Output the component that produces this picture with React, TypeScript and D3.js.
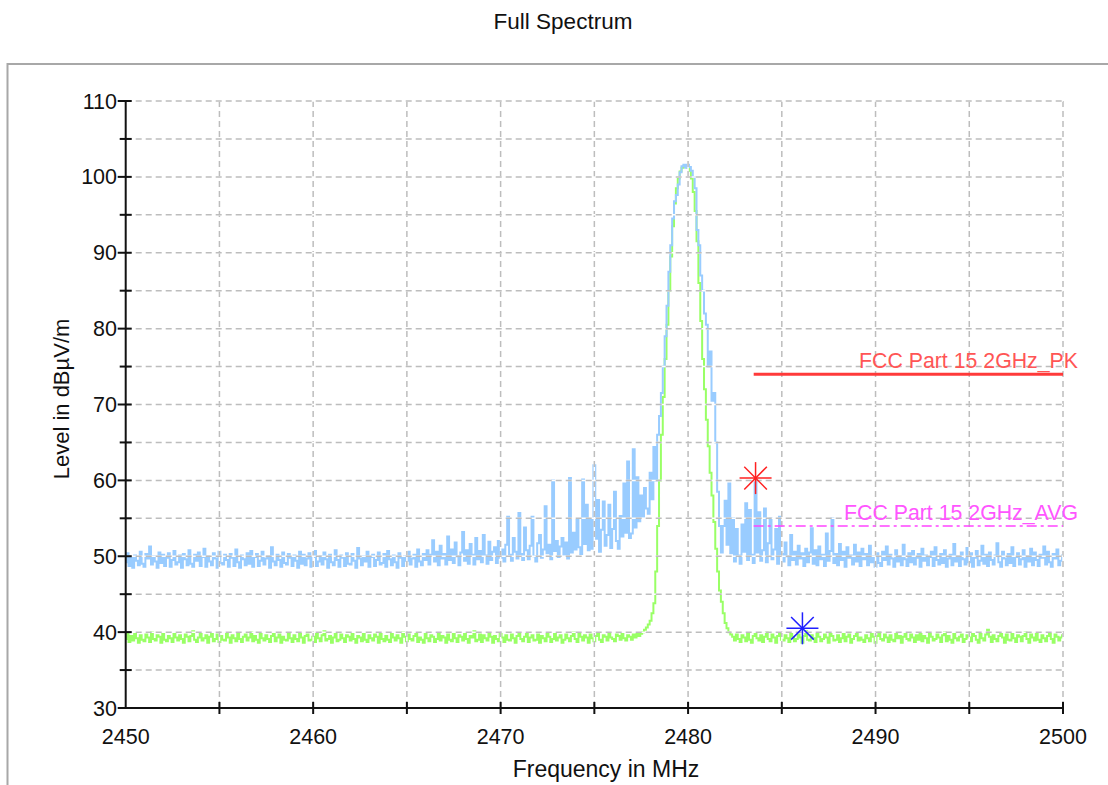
import React from "react";
import * as d3 from "d3";

// ---- sweep definition ----
const sweepStartMHz = 2450;
const sweepStepMHz = 0.1;

// ---- Peak detector trace (light blue), dBµV/m, one value per 0.1 MHz ----
const bluePkFloorLow = [
  49.2, 50.4, 48.7, 49.9, 48.5, 50.1, 49.4, 48.8, 50.6, 49.0,
  48.6, 50.3, 49.7, 51.3, 48.9, 50.0, 49.3, 48.5, 50.5, 49.1,
  50.2, 48.7, 49.8, 50.4, 48.6, 49.5, 50.7, 48.9, 49.2, 50.1,
  48.5, 50.3, 49.6, 48.8, 50.8, 49.0, 48.6, 50.2, 49.4, 50.5,
  48.7, 49.9, 51.0, 48.6, 50.0, 49.3, 48.8, 50.4, 49.7, 48.5,
  50.6, 49.1, 48.9, 50.2, 49.5, 48.6, 50.3, 49.8, 48.7, 50.9,
  49.2, 48.5, 50.1, 49.6, 48.8, 50.4, 49.0, 50.7, 48.6, 49.9,
  50.3, 48.7, 49.4, 50.6, 48.9, 49.7, 50.0, 48.5, 51.2, 49.3,
  48.8, 50.2, 49.5, 48.6, 50.5, 49.1, 48.9, 50.3, 49.8, 48.7,
  50.1, 49.4, 48.5, 50.6, 49.0, 50.2, 48.8, 49.7, 50.4, 48.6,
  49.9, 50.7, 48.7, 49.3, 50.0, 48.9, 50.5, 49.6, 48.5, 50.2,
  49.2, 48.8, 50.8, 49.5, 48.6, 50.1, 49.8, 48.7, 50.4, 49.0,
  48.9, 50.3, 49.4, 48.5, 51.1, 49.7, 48.8, 50.0, 49.3, 50.6,
  48.6, 49.9, 50.2, 48.7, 49.5, 50.5, 48.9, 49.1, 50.3, 48.6,
  50.7, 49.6, 48.8, 50.1, 49.2, 48.5, 50.4, 49.8, 48.7, 50.0,
  49.4, 50.6, 48.9, 49.7, 50.2, 48.6, 50.9, 49.3, 48.8, 50.3,
];
const bluePkSpurs = [
  49.5, 50.8, 48.9, 50.2, 52.1, 49.3, 50.6, 48.8, 51.4, 49.7,
  50.3, 48.9, 52.6, 49.5, 50.9, 49.1, 51.8, 50.0, 48.8, 50.5,
  53.2, 49.4, 50.8, 49.0, 51.6, 50.2, 48.9, 52.4, 49.6, 50.7,
  49.2, 52.8, 50.1, 49.0, 51.9, 49.5, 50.6, 51.2, 49.1, 52.0,
  49.8, 50.9, 49.3, 51.5, 55.2, 50.2, 49.4, 52.4, 50.6, 49.7,
  55.7, 50.3, 49.5, 53.8, 50.8, 49.6, 51.4, 55.2, 50.0, 49.3,
  51.7, 52.8, 49.8, 50.9, 56.6, 50.4, 51.5, 49.6, 60.0, 50.7,
  52.0, 49.9, 51.3, 52.4, 50.2, 51.8, 49.7, 60.3, 50.5, 53.1,
  50.9, 54.8, 51.2, 50.3, 60.1, 51.6, 56.8, 50.8, 54.8, 51.0,
  62.0, 52.3, 57.4, 50.6, 53.5, 57.2, 51.4, 52.8, 56.8, 51.1,
  53.6, 58.5, 52.0, 51.0, 55.3, 52.6, 59.6, 53.1, 62.5, 52.4,
  53.0, 64.1, 53.8, 60.4, 54.6, 58.0, 55.2, 59.0, 56.3, 55.6,
];
const bluePkCarrier = [
  61.0, 57.5, 64.4, 60.0, 66.0, 68.5, 71.5, 75.0, 79.0, 83.0,
  87.5, 91.0, 94.5, 96.8, 97.6, 99.0, 100.6, 101.4, 101.6, 101.2,
  101.6, 101.3, 100.8, 100.0, 98.5, 93.0, 91.0, 87.0, 85.0, 82.0,
  80.5, 75.0, 77.0, 70.5, 71.5, 65.0, 58.5, 54.0, 50.5, 54.0,
  57.3, 51.5, 59.6,
];
const bluePkSpursHigh = [
  50.4, 55.0, 49.3, 53.6, 50.1, 49.0, 54.2,
  50.6, 57.0, 49.5, 56.1, 50.2, 49.1, 60.2, 50.5, 55.8, 49.4,
  50.8, 56.3, 49.2, 51.7, 55.0, 49.6, 50.9, 53.6, 49.0, 55.2,
  50.3, 49.3, 51.8, 50.0, 48.8, 52.8, 49.5, 50.6, 48.9, 51.4,
  49.7, 50.4, 48.7, 51.0, 49.2, 50.5, 53.7, 49.0, 50.8, 48.8,
  51.3, 49.6, 50.2, 48.7, 53.0, 49.4, 50.7, 55.0, 49.1, 50.3,
  48.8, 51.6, 49.5, 50.6, 48.6, 51.2, 49.8, 50.1, 48.9, 51.5,
  49.3, 50.5, 48.7, 51.0, 49.6, 50.3, 48.8, 51.4, 49.2, 50.0,
  48.6,
];
const bluePkFloorHigh = [
  50.4, 49.1, 48.7, 50.6, 49.5, 51.3, 48.9, 50.2, 49.7, 48.6,
  50.8, 49.3, 50.0, 48.8, 51.5, 49.6, 48.7, 50.4, 49.2, 50.7,
  48.9, 49.8, 50.3, 48.6, 51.0, 49.4, 50.1, 48.8, 49.9, 50.6,
  48.7, 51.2, 49.5, 48.9, 50.3, 49.1, 50.8, 48.6, 49.7, 50.2,
  48.8, 51.6, 49.3, 50.0, 48.7, 50.5, 49.6, 48.9, 51.1, 49.2,
  50.4, 48.6, 49.8, 50.7, 48.8, 49.4, 51.4, 49.0, 50.2, 48.7,
  50.5, 49.5, 48.9, 50.1, 51.7, 49.2, 48.6, 50.6, 49.7, 48.8,
  50.3, 49.1, 51.2, 48.7, 49.9, 50.4, 48.9, 49.6, 50.8, 48.6,
  50.0, 49.3, 51.0, 48.8, 50.5, 49.5, 48.7, 50.2, 49.8, 51.3,
  48.9, 50.6, 49.2, 48.6, 50.3, 49.7, 50.9, 48.8, 49.4, 50.1,
];

// ---- Average detector trace (light green) ----
const greenAvgFloorLow = [
  39.1, 39.8, 38.7, 39.5, 38.9, 39.9, 39.2, 38.6, 39.6, 39.0,
  38.8, 39.7, 39.3, 38.7, 40.0, 39.1, 38.9, 39.6, 39.4, 38.6,
  39.8, 39.0, 38.8, 39.5, 39.2, 38.7, 39.9, 39.3, 38.9, 39.6,
  39.1, 38.6, 39.7, 39.4, 38.8, 39.5, 40.1, 39.0, 38.7, 39.3,
  39.8, 38.9, 39.2, 39.6, 38.6, 39.4, 39.9, 38.8, 39.1, 39.7,
  38.7, 39.5, 39.0, 38.9, 39.8, 39.3, 38.6, 39.6, 39.2, 38.8,
  39.9, 39.1, 38.7, 39.4, 39.7, 38.9, 39.3, 40.0, 38.8, 39.5,
  39.0, 38.6, 39.8, 39.2, 38.9, 39.6, 39.1, 38.7, 39.5, 39.9,
  38.8, 39.3, 39.7, 38.6, 39.4, 39.0, 38.9, 39.8, 39.2, 38.7,
  39.6, 39.1, 38.8, 39.9, 39.3, 38.6, 39.5, 39.7, 38.9, 39.0,
  39.4, 38.7, 39.8, 39.2, 38.8, 39.6, 40.1, 38.9, 39.1, 39.5,
  38.6, 39.3, 39.9, 38.8, 39.0, 39.7, 39.2, 38.7, 39.6, 39.4,
  38.9, 39.8, 39.1, 38.6, 39.5, 39.3, 38.8, 39.9, 39.0, 38.7,
  39.6, 39.2, 38.9, 39.7, 39.4, 38.6, 39.8, 39.1, 38.8, 39.5,
  39.0, 38.7, 39.9, 39.3, 38.9, 39.6, 39.2, 38.6, 40.0, 39.4,
  38.8, 39.7, 39.1, 38.9, 39.5, 39.8, 38.7, 39.3, 39.0, 38.6,
  39.9, 39.2, 38.8, 39.6, 39.4, 38.7, 39.1, 39.8, 38.9, 39.5,
  39.3, 38.6, 39.7, 39.0, 38.8, 39.9, 39.2, 38.7, 39.6, 39.4,
  38.9, 39.8, 39.1, 38.6, 39.5, 39.3, 40.1, 38.8, 39.0, 39.7,
  38.7, 39.6, 39.2, 38.9, 39.8, 39.4, 38.6, 39.5, 39.1, 38.8,
  39.9, 39.3, 38.7, 39.6, 39.0, 38.9, 39.7, 39.2, 38.6, 39.5,
  39.8, 39.1, 38.8, 39.4, 39.9, 38.7, 39.3, 39.6, 38.9, 39.0,
  39.7, 38.6, 39.5, 39.2, 38.8, 39.8, 39.4, 38.7, 39.1, 39.9,
  38.9, 39.3, 39.6, 38.6, 39.0, 39.7, 39.2, 38.8, 39.5, 40.0,
  39.1, 38.7, 39.8, 39.4, 38.9, 39.6, 39.3, 38.6, 39.7, 39.2,
  38.8, 39.5, 39.9, 39.0, 38.7, 39.6, 39.4, 38.9, 39.8, 39.3,
  39.1, 38.8, 39.7, 39.5, 39.0, 39.9, 39.2, 38.9, 39.6, 39.4,
  39.0, 39.7, 39.3, 39.8, 39.5,
];
const greenAvgCarrier = [
  39.8, 40.0, 40.3, 40.6, 41.0,
  41.5, 42.5, 43.8, 48.0, 54.0, 60.0, 66.0, 71.0, 76.0, 80.5,
  85.0, 89.5, 93.5, 96.5, 98.5, 99.8, 100.7, 101.2, 101.4, 101.3,
  101.2, 100.8, 99.8, 98.0, 95.5, 91.5, 86.0, 81.0, 76.0, 72.0,
  68.0, 64.5, 61.0, 58.0, 54.5, 51.0, 48.0, 45.5, 44.0, 42.5,
  41.2, 40.5, 40.0, 39.7,
];
const greenAvgFloorHigh = [
  39.4, 38.9, 39.7, 39.1, 38.7, 39.6, 39.3, 38.8, 39.9, 39.0,
  38.6, 39.5, 39.8, 39.2, 38.9, 39.6, 38.7, 39.4, 40.0, 39.1,
  38.8, 39.7, 39.3, 38.6, 39.5, 39.9, 39.0, 38.9, 39.6, 39.2,
  38.7, 39.8, 39.4, 38.8, 39.1, 39.7, 39.3, 38.6, 39.5, 40.1,
  39.0, 38.9, 39.6, 39.2, 38.7, 39.8, 39.4, 38.8, 39.1, 39.7,
  39.3, 38.6, 39.9, 39.5, 38.9, 39.0, 39.6, 38.7, 39.2, 39.8,
  38.8, 39.4, 39.7, 38.6, 39.1, 39.5, 39.9, 38.9, 39.3, 39.0,
  38.7, 39.6, 39.2, 38.8, 39.8, 39.4, 38.6, 39.5, 40.0, 39.1,
  38.9, 39.7, 39.3, 38.7, 39.6, 39.0, 38.8, 39.9, 39.2, 39.5,
  38.6, 39.4, 39.8, 39.1, 38.9, 39.7, 39.3, 38.7, 39.6, 39.0,
  39.8, 38.8, 39.5, 39.2, 38.6, 39.9, 39.4, 38.9, 39.1, 39.7,
  39.3, 38.7, 39.6, 40.0, 38.8, 39.5, 39.0, 38.6, 39.8, 39.2,
  38.9, 39.4, 39.7, 38.7, 39.1, 39.6, 39.3, 38.8, 39.9, 39.5,
  39.0, 38.6, 39.8, 39.2, 38.9, 39.7, 40.3, 39.4, 38.7, 39.6,
  39.1, 38.8, 39.5, 39.9, 39.3, 38.6, 39.7, 39.0, 38.9, 39.8,
  39.2, 38.7, 39.6, 39.4, 38.8, 39.5, 40.0, 39.1, 38.6, 39.7,
  39.3, 38.9, 39.8, 39.0, 38.7, 39.6, 39.2, 38.8, 39.5, 39.9,
  39.1, 38.6, 39.7, 39.4, 38.9, 39.3, 39.6,
];

const peakLevels = [
  ...bluePkFloorLow, ...bluePkSpurs, ...bluePkCarrier, ...bluePkSpursHigh, ...bluePkFloorHigh,
];
const avgLevels = [...greenAvgFloorLow, ...greenAvgCarrier, ...greenAvgFloorHigh];

// ---- limit lines ----
const limitNames = ["FCC Part 15 2GHz_PK", "FCC Part 15 2GHz_AVG"];
const limitLevels = [74, 54];
const limitStartMHz = [2483.5, 2483.5];
const limitStopMHz = [2500, 2500];

// ---- markers ----
const markerFreqs = [2483.6, 2486.1];
const markerLevels = [60.3, 40.5];

// ---- axes ----
const xDomain = [2450, 2500];
const yDomain = [30, 110];
const xMajorTicks = [2450, 2460, 2470, 2480, 2490, 2500];
const xMinorTicks = [2455, 2465, 2475, 2485, 2495];
const yMajorTicks = [30, 40, 50, 60, 70, 80, 90, 100, 110];
const yMinorTicks = [35, 45, 55, 65, 75, 85, 95, 105];

const FONT = "'Liberation Sans', Arial, sans-serif";

export default function App() {
  const W = 1108;
  const H = 785;
  const x = d3.scaleLinear().domain(xDomain).range([125.7, 1063]);
  const y = d3.scaleLinear().domain(yDomain).range([708, 101]);

  const freqAt = (i: number) => sweepStartMHz + i * sweepStepMHz;
  const line = d3
    .line<number>()
    .curve(d3.curveStep)
    .x((_, i) => x(freqAt(i)))
    .y((d) => y(d));

  const gridX = [...xMinorTicks, ...xMajorTicks.slice(1)];
  const gridY = [...yMinorTicks, ...yMajorTicks.slice(1)];

  const limitColors = ["#ff3a3a", "#ff44ff"];
  const limitTextColors = ["#ff5555", "#ff55ff"];
  const markerColors = ["#ff2020", "#2020ff"];

  const star = (cx: number, cy: number, color: string, key: number) => {
    const r = 16;
    const d = r * Math.SQRT1_2;
    return (
      <g key={key} stroke={color} strokeWidth={1.5}>
        <line x1={cx - r} y1={cy} x2={cx + r} y2={cy} />
        <line x1={cx} y1={cy - r} x2={cx} y2={cy + r} />
        <line x1={cx - d} y1={cy - d} x2={cx + d} y2={cy + d} />
        <line x1={cx - d} y1={cy + d} x2={cx + d} y2={cy - d} />
      </g>
    );
  };

  return (
    <svg
      width={W}
      height={H}
      style={{ position: "absolute", left: 0, top: 0, background: "#fff" }}
      fontFamily={FONT}
    >
      <rect x={0} y={0} width={W} height={H} fill="#fff" />
      {/* title */}
      <text x={563} y={29} textAnchor="middle" fontSize={22.5} fill="#111">
        Full Spectrum
      </text>
      {/* frame */}
      <rect x={7.5} y={64} width={W + 20} height={H + 20} fill="none" stroke="#a8a8a8" strokeWidth={2} />

      {/* traces */}
      <path d={line(avgLevels) || ""} fill="none" stroke="#99ff66" strokeWidth={2} strokeLinejoin="miter" />
      <path d={line(peakLevels) || ""} fill="none" stroke="#99ccff" strokeWidth={2} strokeLinejoin="miter" />

      {/* grid (opaque dashed, drawn over traces) */}
      <g>
        {gridX.map((v) => (
          <g key={"gx" + v}>
            <line x1={x(v)} x2={x(v)} y1={y(110)} y2={y(30)} stroke="#fff" strokeWidth={1.5} />
            <line x1={x(v)} x2={x(v)} y1={y(110)} y2={y(30)} stroke="#bdbdbd" strokeWidth={1.5} strokeDasharray="6,4" />
          </g>
        ))}
        {gridY.map((v) => (
          <g key={"gy" + v}>
            <line x1={x(2450)} x2={x(2500)} y1={y(v)} y2={y(v)} stroke="#fff" strokeWidth={1.5} />
            <line x1={x(2450)} x2={x(2500)} y1={y(v)} y2={y(v)} stroke="#bdbdbd" strokeWidth={1.5} strokeDasharray="6,4" />
          </g>
        ))}
      </g>

      {/* limit lines */}
      {limitNames.map((name, i) => (
        <g key={name}>
          <line
            x1={x(limitStartMHz[i])}
            x2={x(limitStopMHz[i])}
            y1={y(limitLevels[i])}
            y2={y(limitLevels[i])}
            stroke={limitColors[i]}
            strokeWidth={i === 0 ? 3 : 1.5}
            strokeDasharray={i === 0 ? undefined : "10,4,3,4"}
          />
          <text
            x={x(limitStopMHz[i]) + 15}
            y={y(limitLevels[i]) - 6}
            textAnchor="end"
            fontSize={21.3}
            fill={limitTextColors[i]}
          >
            {name}
          </text>
        </g>
      ))}

      {/* markers */}
      {markerFreqs.map((f, i) => star(x(f), y(markerLevels[i]), markerColors[i], i))}

      {/* axes */}
      <g stroke="#111" strokeWidth={2}>
        <line x1={x(2450)} x2={x(2450)} y1={y(110) - 1} y2={y(30) + 1} />
        <line x1={x(2450) - 1} x2={x(2500)} y1={y(30)} y2={y(30)} />
        {yMajorTicks.map((v) => (
          <line key={"ym" + v} x1={x(2450) - 8} x2={x(2450) + 6} y1={y(v)} y2={y(v)} />
        ))}
        {yMinorTicks.map((v) => (
          <line key={"yn" + v} x1={x(2450) - 6} x2={x(2450) + 6} y1={y(v)} y2={y(v)} />
        ))}
        {[...xMajorTicks.slice(1), ...xMinorTicks].map((v) => (
          <line key={"xt" + v} x1={x(v)} x2={x(v)} y1={y(30) - 6} y2={y(30) + 6} />
        ))}
      </g>
      {yMajorTicks.map((v) => (
        <text key={"yl" + v} x={117} y={y(v) + 7.5} textAnchor="end" fontSize={21.5} fill="#111">
          {v}
        </text>
      ))}
      {xMajorTicks.map((v) => (
        <text key={"xl" + v} x={x(v)} y={744} textAnchor="middle" fontSize={21.5} fill="#111">
          {v}
        </text>
      ))}
      <text x={606} y={777} textAnchor="middle" fontSize={23} fill="#111">
        Frequency in MHz
      </text>
      <text
        transform={`translate(69, 399) rotate(-90)`}
        textAnchor="middle"
        fontSize={22}
        fill="#111"
      >
        Level in dBµV/m
      </text>
    </svg>
  );
}
